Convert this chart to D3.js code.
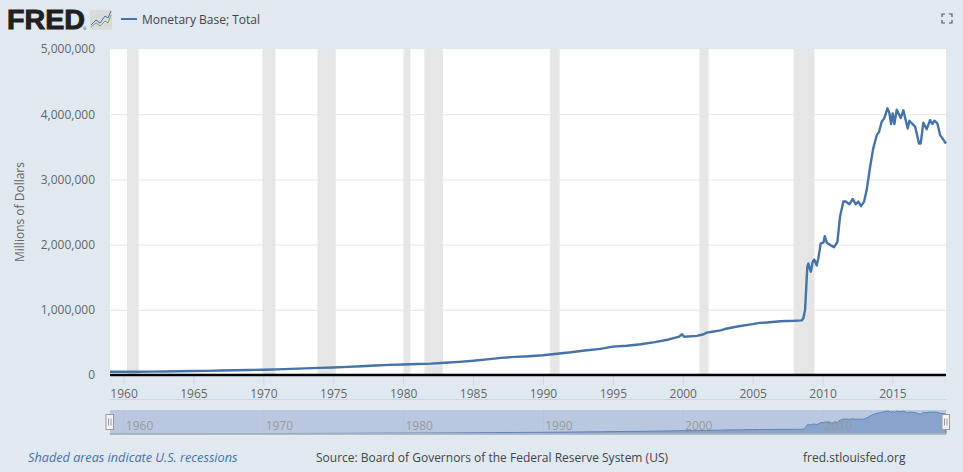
<!DOCTYPE html>
<html>
<head>
<meta charset="utf-8">
<script src="https://cdn.jsdelivr.net/npm/d3@7"></script>
<style>
html, body { margin: 0; padding: 0; background: #e1e9f0; overflow: hidden; }
text { font-family: "Open Sans", sans-serif; }
</style>
</head>
<body>
<svg id="chart" width="963" height="472"></svg>
<script>

var width = 963, height = 472;

// year, millions of dollars
var data = [
	[1959.03,50000],[1960,50500],[1961,50900],[1962,52500],[1963,54500],[1964,57500],
	[1965,60500],[1966,64000],[1967,68000],[1968,72500],[1969,76500],[1970,81000],
	[1971,87000],[1972,94000],[1973,102000],[1974,110000],[1975,116000],[1976,124000],
	[1977,134000],[1978,146000],[1979,156000],[1980,160000],[1981,168000],[1982,175000],
	[1983,188000],[1984,202000],[1985,218000],[1986,240000],[1987,263000],[1988,278000],
	[1989,288000],[1990,302000],[1991,326000],[1992,348000],[1993,375000],[1994.1,400000],
	[1995,435000],[1996,448000],[1997,472000],[1998,505000],[1999,545000],[1999.75,590000],
	[1999.95,624000],[2000.1,587000],[2001,600000],[2001.5,625000],[2001.7,650000],[2002,660000],
	[2002.7,685000],[2003,705000],[2004,748000],[2005,780000],[2005.5,800000],[2006,806000],
	[2007,825000],[2008,832000],[2008.5,838000],[2008.63,870000],[2008.75,1000000],
	[2008.91,1660000],[2008.98,1710000],[2009.16,1585000],[2009.30,1740000],[2009.41,1770000],
	[2009.58,1680000],[2009.70,1790000],[2009.87,2020000],[2010.06,2030000],[2010.16,2130000],
	[2010.30,2030000],[2010.66,1980000],[2010.82,1960000],[2011.06,2040000],[2011.25,2430000],
	[2011.49,2660000],[2011.66,2660000],[2011.92,2620000],[2012.16,2700000],[2012.37,2620000],
	[2012.56,2660000],[2012.75,2590000],[2012.97,2660000],[2013.16,2840000],[2013.40,3190000],
	[2013.63,3480000],[2013.88,3680000],[2014.04,3730000],[2014.23,3885000],[2014.42,3940000],
	[2014.64,4090000],[2014.78,4020000],[2014.90,3850000],[2015.02,4010000],[2015.14,3850000],
	[2015.31,4070000],[2015.59,3940000],[2015.78,4060000],[2016.09,3780000],[2016.21,3900000],
	[2016.62,3810000],[2016.90,3550000],[2017.02,3550000],[2017.21,3870000],[2017.45,3770000],
	[2017.69,3910000],[2017.85,3850000],[2018.00,3900000],[2018.21,3860000],[2018.41,3680000],
	[2018.83,3550000]
];

var recessions = [
	[1960.25,1961.08],[1969.93,1970.87],[1973.87,1975.18],[1980.02,1980.52],
	[1981.52,1982.85],[1990.52,1991.19],[2001.19,2001.85],[2007.93,2009.43]
];

var svg = d3.select("#chart");

var x = d3.scaleLinear().domain([1959.03, 2018.83]).range([110, 946]);
var y = d3.scaleLinear().domain([0, 5000000]).range([375, 49]);
var yNav = d3.scaleLinear().domain([0, 4090000]).range([434, 411]);

var line = d3.line()
	.x(function(d) { return x(d[0]); })
	.y(function(d) { return y(d[1]); });

var navArea = d3.area()
	.x(function(d) { return x(d[0]); })
	.y0(434)
	.y1(function(d) { return yNav(d[1]); });

// plot background
svg.append("rect")
	.attr("x", 110).attr("y", 49)
	.attr("width", 836).attr("height", 326)
	.attr("fill", "#fff");

// recessions
svg.append("g").selectAll("rect").data(recessions).enter().append("rect")
	.attr("x", function(d) { return x(d[0]); })
	.attr("y", 49)
	.attr("width", function(d) { return x(d[1]) - x(d[0]); })
	.attr("height", 326)
	.attr("fill", "#e6e6e6");

// y axis and grid
var yAxis = d3.axisLeft(y).tickValues([0, 1000000, 2000000, 3000000, 4000000, 5000000])
	.tickFormat(d3.format(",")).tickSize(0).tickPadding(15);

var yG = svg.append("g").attr("transform", "translate(110,0)").call(yAxis);
yG.select(".domain").remove();
yG.selectAll("text").attr("fill", "#666").style("font-size", "12px");

svg.append("g").selectAll("line").data([1000000, 2000000, 3000000, 4000000]).enter().append("line")
	.attr("x1", 110).attr("x2", 946)
	.attr("y1", function(d) { return y(d) + 0.5; })
	.attr("y2", function(d) { return y(d) + 0.5; })
	.attr("stroke", "#e6e6e6");

// x axis
var xAxis = d3.axisBottom(x).tickValues(d3.range(1960, 2016, 5))
	.tickFormat(d3.format("d")).tickSize(10).tickPadding(4);

var xG = svg.append("g").attr("transform", "translate(0,375)").call(xAxis);
xG.select(".domain").remove();
xG.selectAll("line").attr("stroke", "#ccd6eb");
xG.selectAll("text").attr("fill", "#666").style("font-size", "12px");

// series
svg.append("path").datum(data)
	.attr("d", line)
	.attr("fill", "none")
	.attr("stroke", "#4572a7")
	.attr("stroke-width", 2.4)
	.attr("stroke-linejoin", "round");

svg.append("line")
	.attr("x1", 110).attr("x2", 946)
	.attr("y1", 375).attr("y2", 375)
	.attr("stroke", "#000").attr("stroke-width", 2.5);

svg.append("line")
	.attr("x1", 110).attr("x2", 946)
	.attr("y1", 399.5).attr("y2", 399.5)
	.attr("stroke", "#ccd6eb");

svg.append("text")
	.attr("transform", "translate(24,212) rotate(-90)")
	.attr("text-anchor", "middle")
	.attr("fill", "#666")
	.style("font-size", "12px")
	.text("Millions of Dollars");

// navigator
svg.append("rect")
	.attr("x", 110).attr("y", 410)
	.attr("width", 836).attr("height", 24)
	.attr("fill", "#b9c8e0");

svg.append("g").selectAll("line").data(d3.range(1960, 2016, 10)).enter().append("line")
	.attr("x1", function(d) { return x(d) + 0.5; })
	.attr("x2", function(d) { return x(d) + 0.5; })
	.attr("y1", 410).attr("y2", 434)
	.attr("stroke", "#b3c3dc");

svg.append("path").datum(data)
	.attr("d", navArea)
	.attr("fill", "#88a3cc")
	.attr("stroke", "#5f84b6")
	.attr("stroke-width", 1);

svg.append("g").selectAll("text").data(d3.range(1960, 2016, 10)).enter().append("text")
	.attr("x", function(d) { return x(d) + 16; })
	.attr("y", 430)
	.attr("text-anchor", "middle")
	.attr("fill", "#999")
	.style("font-size", "12px")
	.text(function(d) { return d; });

svg.append("line")
	.attr("x1", 110).attr("x2", 946)
	.attr("y1", 434).attr("y2", 434)
	.attr("stroke", "#bbb").attr("stroke-width", 1.5);

var handles = svg.append("g").selectAll("g").data([110, 946]).enter().append("g")
	.attr("transform", function(d) { return "translate(" + d + ",414.5)"; });

handles.append("rect")
	.attr("x", -4).attr("y", 0)
	.attr("width", 7.5).attr("height", 15)
	.attr("fill", "#f2f2f2")
	.attr("stroke", "#999");

handles.append("path")
	.attr("d", "M-1.5,4V11M1,4V11")
	.attr("fill", "none")
	.attr("stroke", "#999");

// header
var logo = svg.append("g");

logo.append("text")
	.attr("x", 7).attr("y", 29)
	.attr("fill", "#231f20")
	.style("font-family", "'Liberation Sans', sans-serif")
	.style("font-weight", "bold")
	.style("font-size", "27px")
	.style("stroke", "#231f20")
	.style("stroke-width", "0.9px")
	.attr("textLength", 78)
	.attr("lengthAdjust", "spacingAndGlyphs")
	.text("FRED");

logo.append("text")
	.attr("x", 83).attr("y", 30)
	.attr("fill", "#231f20")
	.style("font-size", "4px")
	.text("®");

logo.append("rect")
	.attr("x", 90).attr("y", 10)
	.attr("width", 22).attr("height", 20)
	.attr("rx", 2)
	.attr("fill", "#d8dbd9");

logo.append("path")
	.attr("d", "M91,25L96,20L100,23L105,16L108,18L111,11")
	.attr("fill", "none")
	.attr("stroke", "#4572a7");

logo.append("path")
	.attr("d", "M91,27L96,23L100,26L105,21L108,23L111,15")
	.attr("fill", "none")
	.attr("stroke", "#7aa65a");

svg.append("line")
	.attr("x1", 121).attr("x2", 137)
	.attr("y1", 19).attr("y2", 19)
	.attr("stroke", "#4572a7")
	.attr("stroke-width", 2);

svg.append("text")
	.attr("x", 142).attr("y", 24)
	.attr("fill", "#444")
	.style("font-size", "12px")
	.text("Monetary Base; Total");

// expand icon
svg.append("path")
	.attr("d", "M942,17V14H945M949,14H952V17M952,20V23H949M945,23H942V20")
	.attr("fill", "none")
	.attr("stroke", "#555")
	.attr("stroke-width", 1.2);

// footer
svg.append("text")
	.attr("x", 28).attr("y", 462)
	.attr("fill", "#4572a7")
	.style("font-size", "12.7px")
	.style("font-style", "italic")
	.text("Shaded areas indicate U.S. recessions");

svg.append("text")
	.attr("x", 316).attr("y", 462)
	.attr("fill", "#444")
	.style("font-size", "12px")
	.text("Source: Board of Governors of the Federal Reserve System (US)");

svg.append("text")
	.attr("x", 803).attr("y", 462)
	.attr("fill", "#444")
	.style("font-size", "12px")
	.text("fred.stlouisfed.org");

</script>
</body>
</html>
